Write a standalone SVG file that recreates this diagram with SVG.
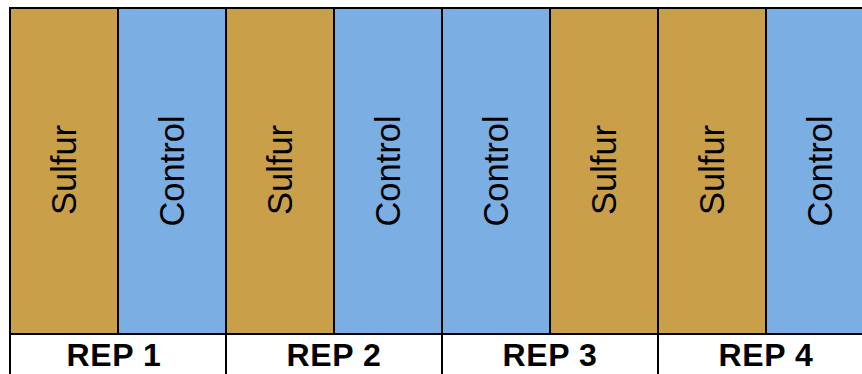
<svg xmlns="http://www.w3.org/2000/svg" width="862" height="374" viewBox="0 0 862 374">
<style>
.s{fill:#C99F4A;stroke:#000;stroke-width:2}
.c{fill:#7BAEE3;stroke:#000;stroke-width:2}
.t{font-family:"Liberation Sans",Arial,sans-serif;font-size:34.5px;fill:#000;text-anchor:middle}
.r{font-family:"Liberation Sans",Arial,sans-serif;font-size:32px;font-weight:bold;fill:#000;text-anchor:middle;letter-spacing:0.6px}
.l{stroke:#000;stroke-width:2;fill:none}
</style>
<rect width="862" height="374" fill="#fff"/>
<g id="s1"><rect class="s" x="10" y="8" width="108" height="326"/><text class="t" transform="translate(76,170) rotate(-90)">Sulfur</text></g>
<g id="c1"><rect class="c" x="118" y="8" width="108" height="326"/><text class="t" transform="translate(184,171) rotate(-90)">Control</text></g>
<g id="s2"><rect class="s" x="226" y="8" width="108" height="326"/><text class="t" transform="translate(292,170) rotate(-90)">Sulfur</text></g>
<g id="c2"><rect class="c" x="334" y="8" width="108" height="326"/><text class="t" transform="translate(400,171) rotate(-90)">Control</text></g>
<g id="c3"><rect class="c" x="442" y="8" width="108" height="326"/><text class="t" transform="translate(508,171) rotate(-90)">Control</text></g>
<g id="s3"><rect class="s" x="550" y="8" width="108" height="326"/><text class="t" transform="translate(616,170) rotate(-90)">Sulfur</text></g>
<g id="s4"><rect class="s" x="658" y="8" width="108" height="326"/><text class="t" transform="translate(724,170) rotate(-90)">Sulfur</text></g>
<g id="c4"><rect class="c" x="766" y="8" width="108" height="326"/><text class="t" transform="translate(832,171) rotate(-90)">Control</text></g>
<g id="labels">
<path class="l" d="M10 334V380M226 334V380M442 334V380M658 334V380"/>
<text class="r" x="114" y="366">REP 1</text>
<text class="r" x="334" y="366">REP 2</text>
<text class="r" x="550" y="366">REP 3</text>
<text class="r" x="766" y="366">REP 4</text>
</g>
</svg>
